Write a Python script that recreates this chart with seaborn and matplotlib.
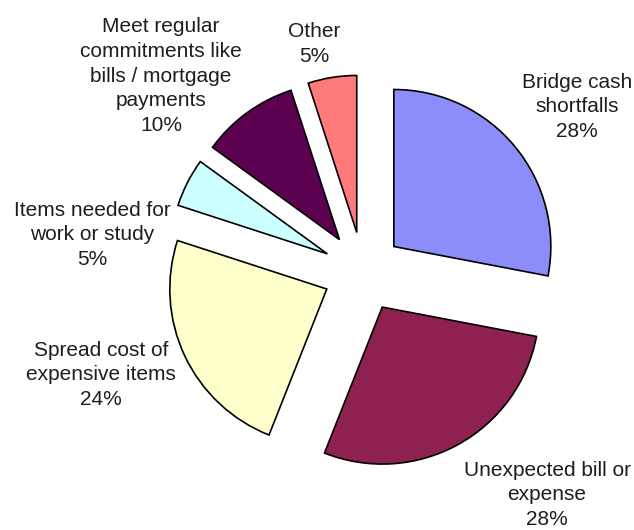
import matplotlib
matplotlib.use("Agg")
import matplotlib.pyplot as plt
import seaborn as sns

# ---- data ----
categories = [
    "Bridge cash\nshortfalls",
    "Unexpected bill or\nexpense",
    "Spread cost of\nexpensive items",
    "Items needed for\nwork or study",
    "Meet regular\ncommitments like\nbills / mortgage\npayments",
    "Other",
]
values = [28, 28, 24, 5, 10, 5]
colors = ["#8c8cfa", "#8e2150", "#ffffcc", "#ccffff", "#5c0050", "#ff7a7a"]

# ---- layout (pixel space of a 634x530 canvas, y measured from top) ----
W, H = 634, 530
pie_center = (363, 272)
pie_radius = 157
explode_px = 40
label_xy = [(577, 107), (547, 495), (101, 375), (92, 235), (161, 76), (314, 44)]

sns.set_theme(style="white")
plt.rcParams["font.family"] = ["Liberation Sans", "DejaVu Sans"]

fig = plt.figure(figsize=(W / 100, H / 100), dpi=100)
ax = fig.add_axes([0, 0, 1, 1])

label_texts = [f"{c}\n{v}%" for c, v in zip(categories, values)]
wedges, texts = ax.pie(
    values,
    labels=label_texts,
    colors=colors,
    explode=[explode_px] * len(values),
    startangle=90,
    counterclock=False,
    center=(pie_center[0], H - pie_center[1]),
    radius=pie_radius,
    wedgeprops=dict(edgecolor="black", linewidth=1.2),
    textprops=dict(fontsize=15, color="#1e1e1e", linespacing=1.38),
)
for t, (x, y) in zip(texts, label_xy):
    t.set_position((x, H - y))
    t.set_ha("center")
    t.set_va("center")
    t.set_multialignment("center")

ax.set_xlim(0, W)
ax.set_ylim(0, H)
ax.set_aspect("equal")
ax.axis("off")
fig.savefig("out.png", dpi=100, facecolor="white")
